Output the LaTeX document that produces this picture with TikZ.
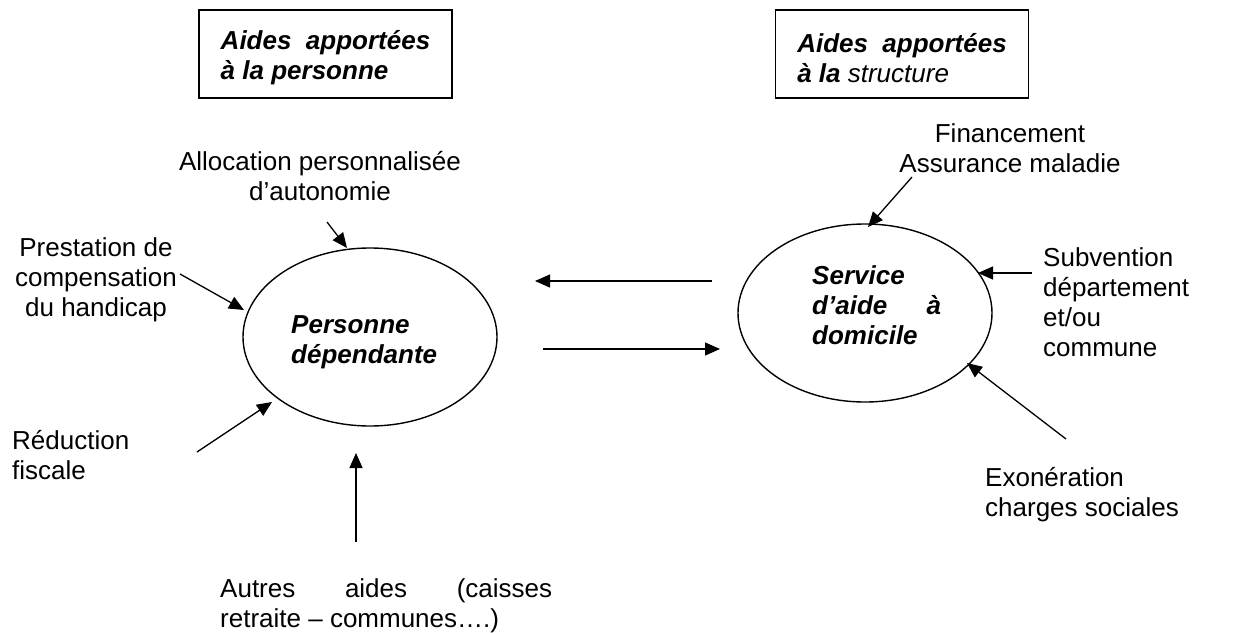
\documentclass[tikz,border=0pt]{standalone}
\usepackage{fontspec}
\setmainfont{Liberation Sans}
\usetikzlibrary{shapes.geometric,arrows.meta}
\begin{document}
\begin{tikzpicture}[x=1pt,y=-1pt,
  fnt/.style={font=\fontsize{26}{30}\selectfont},
  txt/.style={fnt, inner sep=0pt, align=left, anchor=base west},
  ctxt/.style={fnt, inner sep=0pt, align=center, anchor=base},
  bi/.style={font=\fontsize{26}{30}\selectfont\bfseries\itshape},
  bx/.style={draw, line width=1.4pt, minimum width=253pt, minimum height=88pt, inner sep=0pt, align=left, bi},
  ell/.style={draw, ellipse, line width=1.4pt, minimum width=254pt, minimum height=178pt, inner sep=0pt},
  arr/.style={line width=1.3pt, -{Triangle[length=15pt,width=13pt]}}
]
\useasboundingbox (0,0) rectangle (1237,632);

% title boxes
\node[bx] (b1) at (325.5,54) {\rule{0pt}{27pt}Aides~ apportées\\à la personne};
\node[bx] (b2) at (902,54) {\rule{0pt}{27pt}Aides~ apportées\\à la \mdseries structure};

% ellipses (anchor base = baseline of the last line)
\node[ell] (pd) at (370,337) {};
\node[txt, bi] (pdt) at (291,363) {Personne\\dépendante};
\node[ell] (sad) at (865,313) {};
\node[txt, bi] (sadt) at (812,344) {Service\\\hbox to 129pt{d’aide\hfil à}\\domicile};

% labels
\node[ctxt] (apa) at (320,200) {Allocation personnalisée\\d’autonomie};
\node[ctxt] (pch) at (96,316) {Prestation de\\compensation\\du handicap};
\node[txt] (red) at (12,479) {Réduction\\fiscale};
\node[txt] (aut) at (220,627) {\hbox to 332pt{Autres\hfil aides\hfil (caisses}\\retraite – communes….)};
\node[ctxt] (fin) at (1010,172) {Financement\\Assurance maladie};
\node[txt] (sub) at (1043,356) {Subvention\\département\\et/ou\\commune};
\node[txt] (exo) at (985,516) {Exonération\\charges sociales};

% connector end points
\coordinate (apaS) at (327,222);  \coordinate (apaT) at (347,248);
\coordinate (pchS) at (180,274);  \coordinate (pchT) at (244,310);
\coordinate (redS) at (197,452);  \coordinate (redT) at (272,402);
\coordinate (autS) at (356,542);  \coordinate (autT) at (356,453);
\coordinate (m1S) at (712,281);   \coordinate (m1T) at (535,281);
\coordinate (m2S) at (543,349);   \coordinate (m2T) at (720,349);
\coordinate (finS) at (912,177);  \coordinate (finT) at (868,227);
\coordinate (subS) at (1032,273); \coordinate (subT) at (978,273);
\coordinate (exoS) at (1066,439); \coordinate (exoT) at (967,363);

\draw[arr] (apaS) -- (apaT);
\draw[arr] (pchS) -- (pchT);
\draw[arr] (redS) -- (redT);
\draw[arr] (autS) -- (autT);
\draw[arr] (m1S) -- (m1T);
\draw[arr] (m2S) -- (m2T);
\draw[arr] (finS) -- (finT);
\draw[arr] (subS) -- (subT);
\draw[arr] (exoS) -- (exoT);
\end{tikzpicture}
\end{document}
